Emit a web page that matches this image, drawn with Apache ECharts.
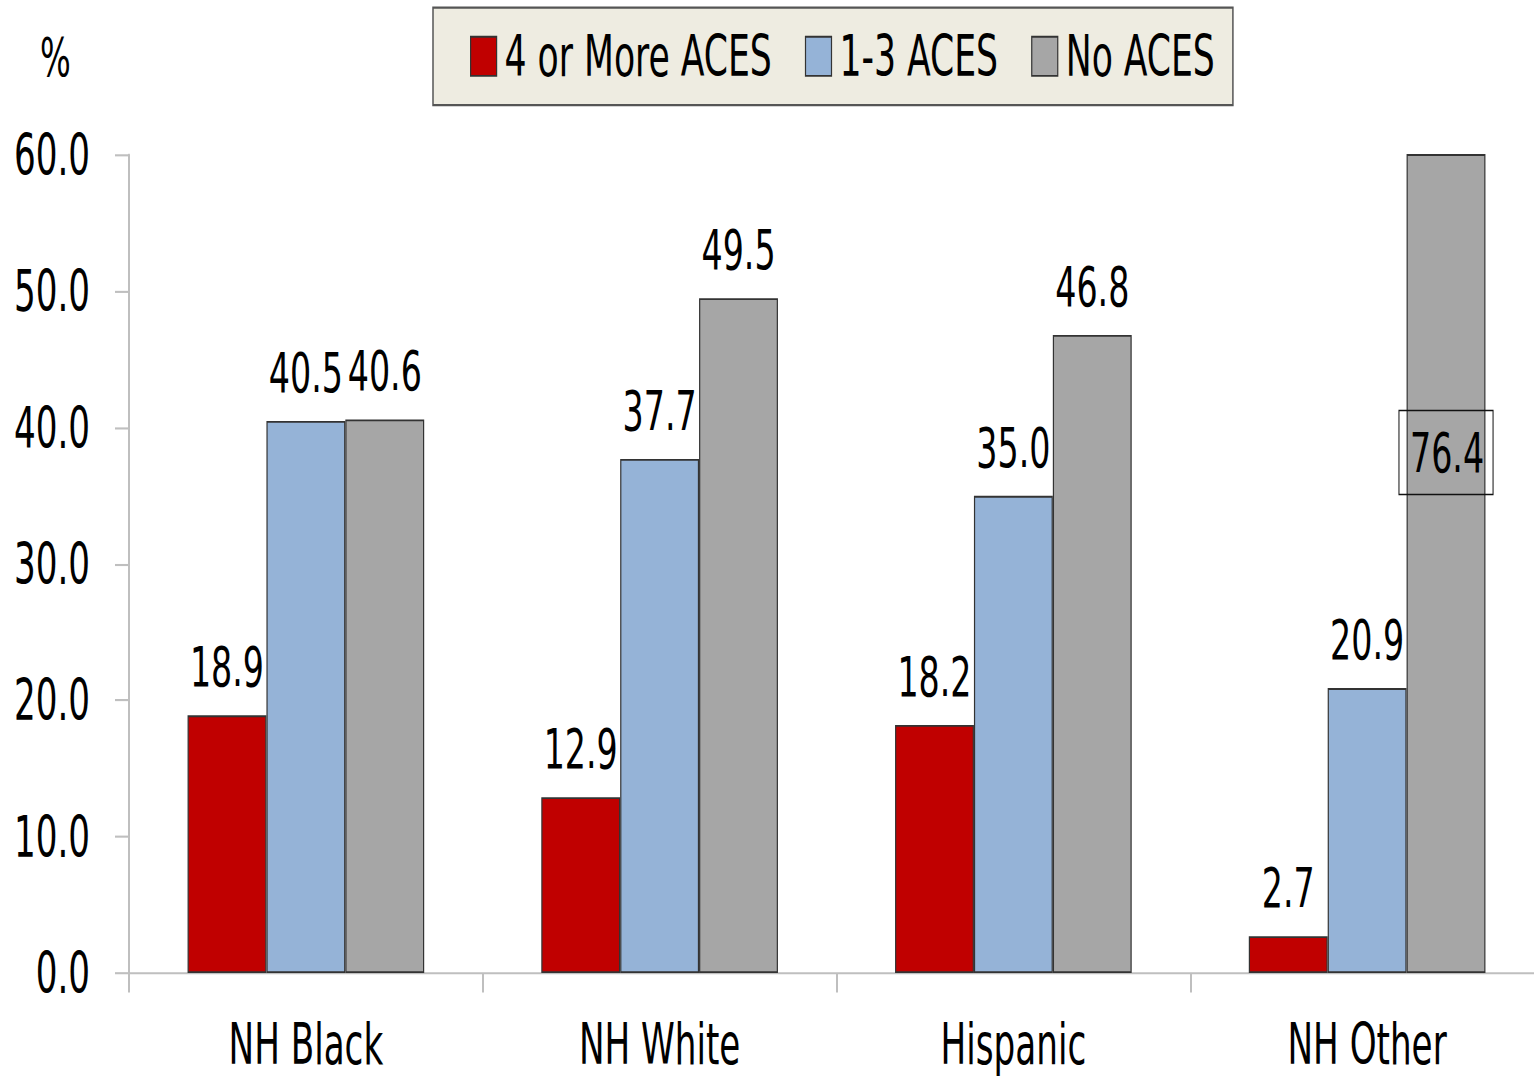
<!DOCTYPE html>
<html>
<head>
<meta charset="utf-8">
<script src="https://cdn.jsdelivr.net/npm/echarts@6/dist/echarts.min.js"></script>
<style>
  html, body { margin: 0; padding: 0; background: #fff; width: 1534px; height: 1076px; }
  #frame { width: 1534px; height: 1076px; position: relative; }
  /* chart is laid out at 1534x717 and stretched vertically to fill 1076px */
  #chart { position: absolute; left: 0; top: 0; width: 1534px; height: 717px;
           transform: scaleY(1.5007); transform-origin: 0 0; }
</style>
</head>
<body>
<div id="frame"><div id="chart"></div></div>
<script>
// Share of adults by number of adverse childhood experiences, by race/ethnicity
const categories = ['NH Black', 'NH White', 'Hispanic', 'NH Other'];
const seriesNames = ['4 or More ACES', '1-3 ACES', 'No ACES'];
const fourOrMore = [18.9, 12.9, 18.2, 2.7];
const oneToThree = [40.5, 37.7, 35.0, 20.9];
const noAces = [40.6, 49.5, 46.8, 76.4];
const yTicks = { min: 0, max: 60, interval: 10 };

const FONT = "'DejaVu Sans Condensed', 'Liberation Sans Narrow', 'Liberation Sans', sans-serif";
const colors = ['#C00000', '#95B3D7', '#A6A6A6'];

function makeData(values) {
  return values.map(v => {
    if (v > yTicks.max) {
      // value runs past the axis top: boxed label inside the clipped bar
      return {
        value: v,
        label: {
          position: 'inside',
          offset: [0, -74],
          borderColor: '#111',
          borderWidth: 1,
          padding: [10, 9, 9, 11]
        }
      };
    }
    return v;
  });
}

function barSeries(name, values, color) {
  return {
    name: name,
    type: 'bar',
    data: makeData(values),
    barWidth: '22.3%',
    barGap: '0%',
    clip: true,
    itemStyle: { color: color, borderColor: '#333', borderWidth: 1.2 },
    label: {
      show: true,
      position: 'top',
      distance: 14,
      color: '#000',
      fontFamily: FONT,
      fontSize: 37,
      formatter: p => p.value.toFixed(1)
    }
  };
}

const chart = echarts.init(document.getElementById('chart'), null, { renderer: 'svg' });
chart.setOption({
  animation: false,
  backgroundColor: '#fff',
  textStyle: { fontFamily: FONT },
  title: {
    text: '%',
    left: 40,
    top: 20,
    padding: 0,
    textStyle: { fontFamily: FONT, fontSize: 36, fontWeight: 'normal', color: '#000' }
  },
  legend: {
    data: seriesNames,
    icon: 'rect',
    left: 433,
    top: 5,
    padding: [13, 18, 13, 37],
    itemGap: 33,
    itemWidth: 26,
    itemHeight: 26,
    backgroundColor: '#EEECE1',
    borderColor: '#555',
    borderWidth: 1.5,
    textStyle: { fontFamily: FONT, fontSize: 38.5, color: '#000', padding: [0, 0, 0, 3] },
    itemStyle: { borderColor: '#333', borderWidth: 1.2 }
  },
  grid: {
    left: 129,
    top: 103.3,
    bottom: 68.6,
    width: 1415,
    outerBoundsMode: 'none',
    containLabel: false
  },
  xAxis: {
    type: 'category',
    data: categories,
    axisLine: { lineStyle: { color: '#BFBFBF', width: 1.4 } },
    axisTick: { show: true, length: 13, lineStyle: { color: '#BFBFBF', width: 2 } },
    axisLabel: { color: '#000', fontFamily: FONT, fontSize: 38, lineHeight: 36, margin: 29 }
  },
  yAxis: {
    type: 'value',
    min: yTicks.min,
    max: yTicks.max,
    interval: yTicks.interval,
    axisLine: { show: true, lineStyle: { color: '#BFBFBF', width: 2 } },
    axisTick: { show: true, length: 14, lineStyle: { color: '#BFBFBF', width: 1.4 } },
    splitLine: { show: false },
    axisLabel: {
      color: '#000',
      fontFamily: FONT,
      fontSize: 38,
      margin: 39,
      formatter: v => v.toFixed(1)
    }
  },
  series: [
    barSeries(seriesNames[0], fourOrMore, colors[0]),
    barSeries(seriesNames[1], oneToThree, colors[1]),
    barSeries(seriesNames[2], noAces, colors[2])
  ]
});
</script>
</body>
</html>
